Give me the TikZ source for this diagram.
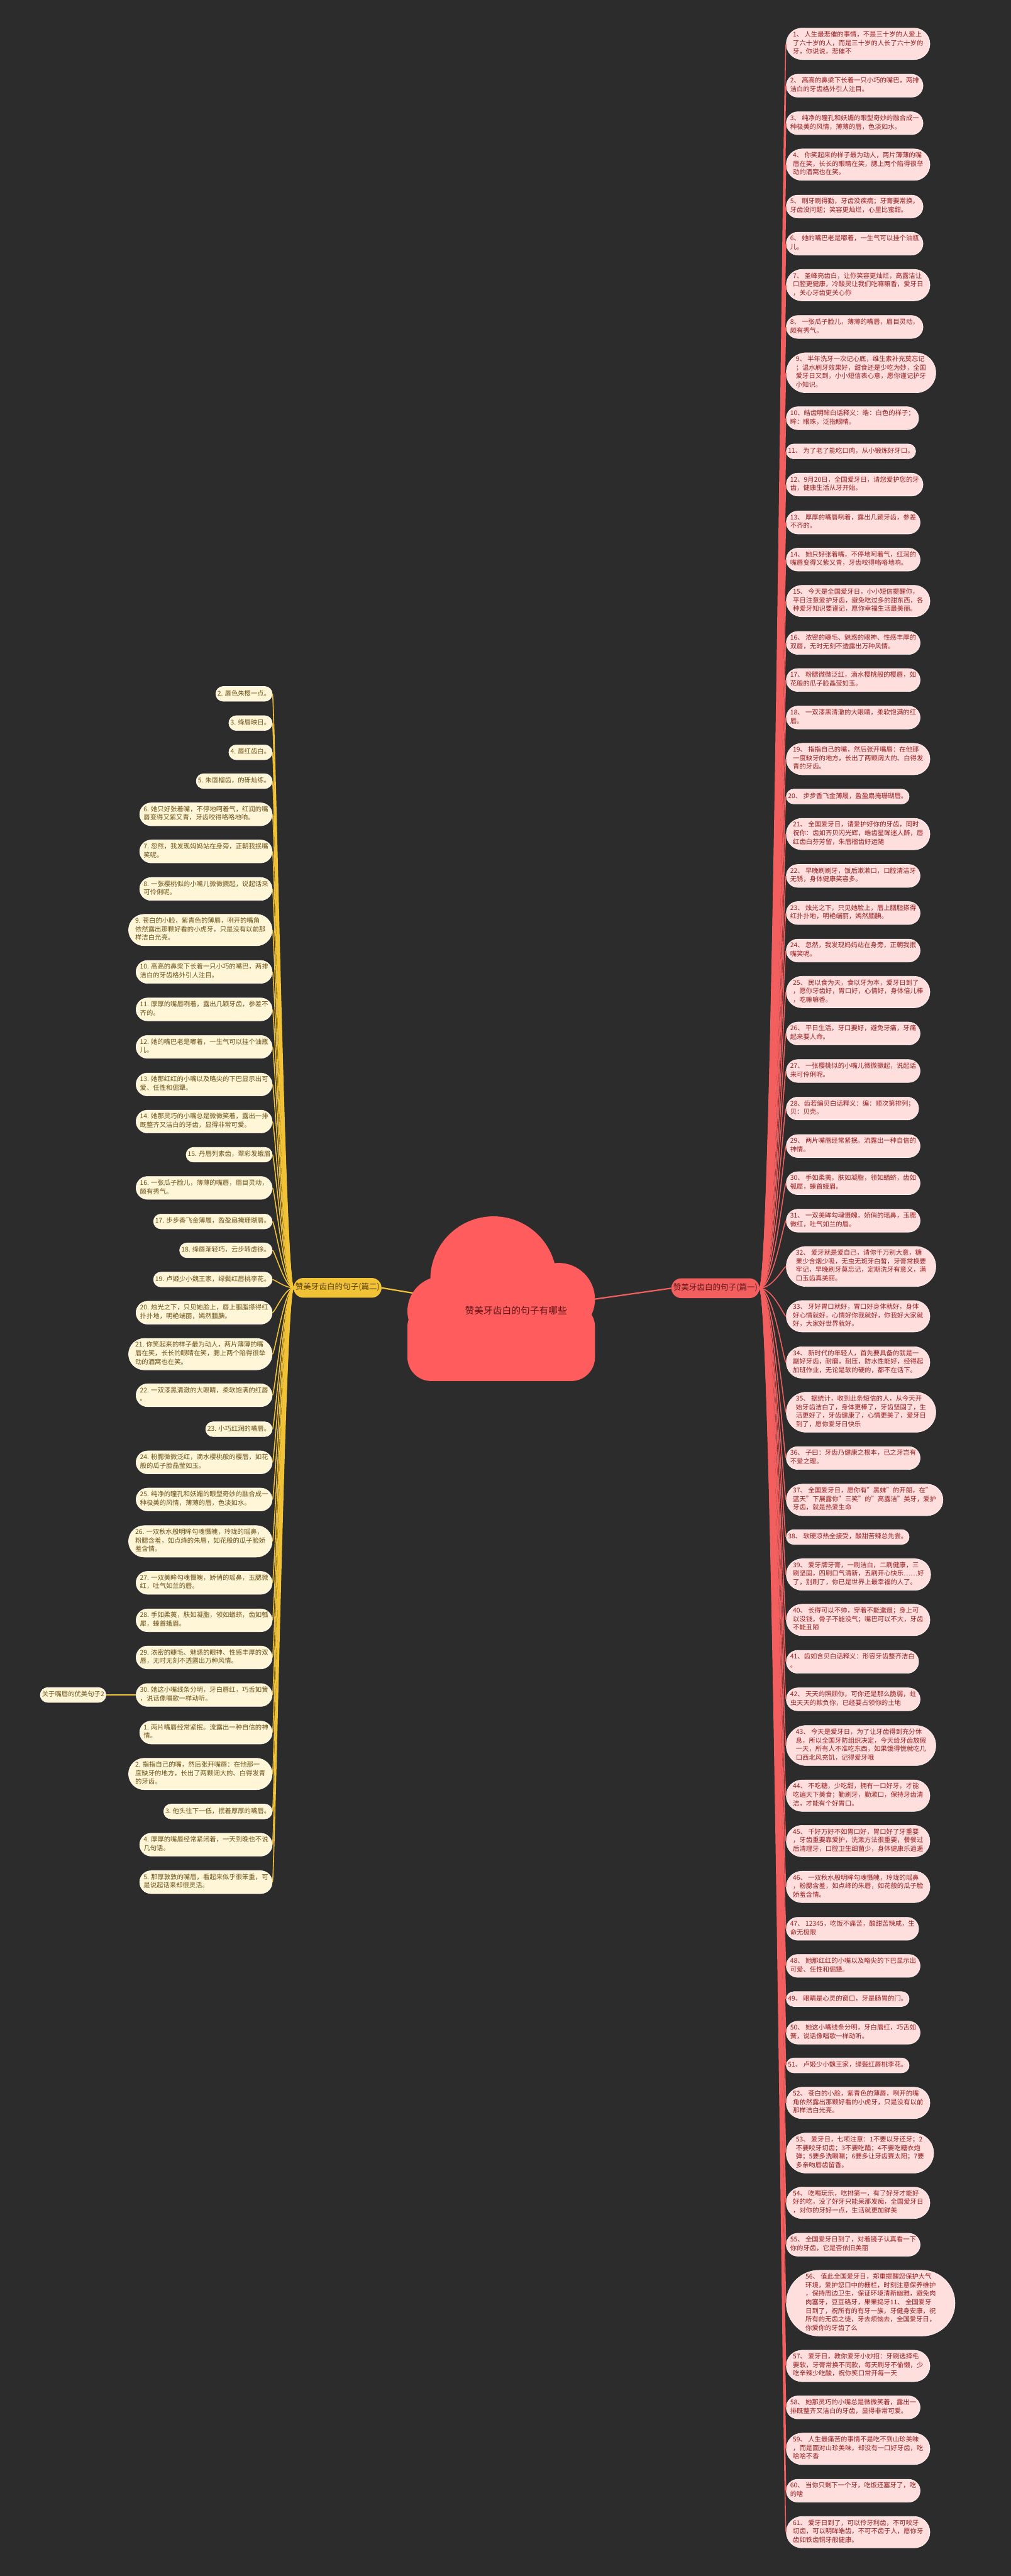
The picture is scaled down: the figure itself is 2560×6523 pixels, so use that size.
\documentclass[tikz,border=0pt]{standalone}
\usepackage{fontspec}
\setmainfont{Noto Sans CJK SC}
\usetikzlibrary{shapes.misc,backgrounds}

\definecolor{bgdark}{HTML}{2C2C2C}
\definecolor{rfill}{HTML}{FFDEDE}
\definecolor{rtxt}{HTML}{961D1D}
\definecolor{rlinkc}{HTML}{F35E5E}
\definecolor{lfill}{HTML}{FFF5D7}
\definecolor{ltxt}{HTML}{6A5015}
\definecolor{llinkc}{HTML}{F2C236}
\definecolor{cloudc}{HTML}{FF5C5E}
\definecolor{ctxt}{HTML}{5B1515}

\newcommand\leaffont{\fontsize{16.5pt}{21.7pt}\selectfont}
\newcommand\branchfont{\fontsize{20pt}{26pt}\selectfont}
\newcommand\centerfont{\fontsize{23.5pt}{30pt}\selectfont}

\begin{document}
\begin{tikzpicture}[x=1pt, y=-1pt,
    leaf/.style={rounded rectangle, align=left, font=\leaffont, line width=1pt,
      inner xsep=1pt, inner ysep=8pt,
      execute at begin node=\strut, execute at end node=\strut},
    rleaf/.style={leaf, fill=rfill, draw=white!70!rfill, text=rtxt, anchor=west},
    lleaf/.style={leaf, fill=lfill, draw=white!70!lfill, text=ltxt, anchor=east},
    branch/.style={rounded rectangle, font=\branchfont, inner xsep=1pt, inner ysep=12pt,
      execute at begin node=\strut},
    rlink/.style={draw=rlinkc, line width=2.5pt,
      to path={.. controls +(35,0) and +(-6,0) .. (\tikztotarget)}},
    llink/.style={draw=llinkc, line width=2.5pt,
      to path={.. controls +(-22,0) and +(6,0) .. (\tikztotarget)}}]

  % cloud in the middle
  \fill[cloudc] (1250,3240) circle (160);
  \fill[cloudc] (1415,3290) circle (92);
  \fill[cloudc] (1120,3320) circle (88);
  \fill[cloudc, rounded corners=60] (1032,3300) rectangle (1507,3497);
  \node[font=\centerfont, text=ctxt] (ctr) at (1307,3318) {赞美牙齿白的句子有哪些};

  \node[branch, fill=rlinkc, text=ctxt] (b1) at (1812,3262) {赞美牙齿白的句子(篇一)};
  \node[branch, fill=llinkc, text=ltxt!80!black] (b2) at (855,3261) {赞美牙齿白的句子(篇二)};

  \begin{scope}[on background layer]
    \fill[bgdark] (0,0) rectangle (2560,6523);
    \draw[rlinkc, line width=3.5pt] (ctr) -- (b1.west);
    \draw[llinkc, line width=3.5pt] (ctr) -- (b2.east);
  \end{scope}

  % right side
  \node[rleaf] (r1) at (1991,111) {1、 人生最悲催的事情，不是三十岁的人爱上\\了六十岁的人，而是三十岁的人长了六十岁的\\牙，你说说，悲催不};
  \node[rleaf] (r2) at (1991,217) {2、 高高的鼻梁下长着一只小巧的嘴巴，两排\\洁白的牙齿格外引人注目。};
  \node[rleaf] (r3) at (1991,312) {3、 纯净的瞳孔和妖媚的眼型奇妙的融合成一\\种极美的风情，薄薄的唇，色淡如水。};
  \node[rleaf] (r4) at (1991,417) {4、 你笑起来的样子最为动人，两片薄薄的嘴\\唇在笑，长长的眼睛在笑，腮上两个陷得很举\\动的酒窝也在笑。};
  \node[rleaf] (r5) at (1991,523) {5、 刷牙刷得勤，牙齿没疾病；牙膏要常换，\\牙齿没问题；笑容更灿烂，心里比蜜甜。};
  \node[rleaf] (r6) at (1991,617) {6、 她的嘴巴老是嘟着，一生气可以挂个油瓶\\儿。};
  \node[rleaf] (r7) at (1991,722) {7、 圣峰亮齿白，让你笑容更灿烂，高露洁让\\口腔更健康，冷酸灵让我们吃嘛嘛香，爱牙日\\，关心牙齿更关心你};
  \node[rleaf] (r8) at (1991,828) {8、 一张瓜子脸儿，薄薄的嘴唇，眉目灵动，\\颇有秀气。};
  \node[rleaf] (r9) at (1991,944) {9、 半年洗牙一次记心底，维生素补充莫忘记\\；温水刷牙效果好，甜食还是少吃为妙，全国\\爱牙日又到，小小短信表心意，愿你谨记护牙\\小知识。};
  \node[rleaf] (r10) at (1991,1059) {10、皓齿明眸白话释义：皓：白色的样子；\\眸：眼珠，泛指眼睛。};
  \node[rleaf] (r11) at (1991,1143) {11、 为了老了能吃口肉，从小锻炼好牙口。};
  \node[rleaf] (r12) at (1991,1227) {12、9月20日，全国爱牙日，请您爱护您的牙\\齿，健康生活从牙开始。};
  \node[rleaf] (r13) at (1991,1323) {13、 厚厚的嘴唇咧着，露出几颖牙齿，参差\\不齐的。};
  \node[rleaf] (r14) at (1991,1417) {14、 她只好张着嘴，不停地呵着气，红润的\\嘴唇变得又紫又青，牙齿咬得咯咯地响。};
  \node[rleaf] (r15) at (1991,1522) {15、 今天是全国爱牙日，小小短信提醒你，\\平日注意爱护牙齿，避免吃过多的甜东西，各\\种爱牙知识要谨记，愿你幸福生活最美丽。};
  \node[rleaf] (r16) at (1991,1628) {16、 浓密的睫毛、魅惑的眼神、性感丰厚的\\双唇，无时无刻不透露出万种风情。};
  \node[rleaf] (r17) at (1991,1722) {17、 粉腮微微泛红，滴水樱桃般的樱唇，如\\花般的瓜子脸晶莹如玉。};
  \node[rleaf] (r18) at (1991,1817) {18、 一双漆黑清澈的大眼睛，柔软饱满的红\\唇。};
  \node[rleaf] (r19) at (1991,1922) {19、 指指自己的嘴，然后张开嘴唇：在他那\\一度缺牙的地方，长出了两颗阔大的、白得发\\青的牙齿。};
  \node[rleaf] (r20) at (1991,2017) {20、 步步香飞金薄履，盈盈扇掩珊瑚唇。};
  \node[rleaf] (r21) at (1991,2112) {21、 全国爱牙日，请爱护好你的牙齿，同时\\祝你：齿如齐贝闪光辉，皓齿星眸迷人醉，唇\\红齿白芬芳留，朱唇榴齿好运随};
  \node[rleaf] (r22) at (1991,2218) {22、 早晚刷刷牙，饭后漱漱口，口腔清洁牙\\无锈，身体健康笑容多。};
  \node[rleaf] (r23) at (1991,2312) {23、 烛光之下，只见她脸上，唇上胭脂搽得\\红扑扑地，明艳端丽，嫣然腼腆。};
  \node[rleaf] (r24) at (1991,2407) {24、 忽然，我发现妈妈站在身旁，正朝我抿\\嘴笑呢。};
  \node[rleaf] (r25) at (1991,2512) {25、 民以食为天，食以牙为本，爱牙日到了\\，愿你牙齿好，胃口好，心情好，身体倍儿棒\\，吃嘛嘛香。};
  \node[rleaf] (r26) at (1991,2617) {26、 平日生活，牙口要好，避免牙痛，牙痛\\起来要人命。};
  \node[rleaf] (r27) at (1991,2712) {27、 一张樱桃似的小嘴儿微微撅起，说起话\\来可伶俐呢。};
  \node[rleaf] (r28) at (1991,2807) {28、齿若编贝白话释义：编：顺次第排列；\\贝：贝壳。};
  \node[rleaf] (r29) at (1991,2902) {29、 两片嘴唇经常紧抿。流露出一种自信的\\神情。};
  \node[rleaf] (r30) at (1991,2996) {30、 手如柔荑，肤如凝脂，领如蝤蛴，齿如\\瓠犀，螓首蛾眉。};
  \node[rleaf] (r31) at (1991,3091) {31、 一双美眸勾魂慑魄，娇俏的瑶鼻，玉腮\\微红，吐气如兰的唇。};
  \node[rleaf] (r32) at (1991,3207) {32、 爱牙就是爱自己，请你千万别大意，糖\\果少含烟少吸，无虫无斑牙白皙，牙膏常换要\\牢记，早晚刷牙莫忘记，定期洗牙有意义，满\\口玉齿真美丽。};
  \node[rleaf] (r33) at (1991,3333) {33、 牙好胃口就好，胃口好身体就好，身体\\好心情就好，心情好你我就好，你我好大家就\\好，大家好世界就好。};
  \node[rleaf] (r34) at (1991,3450) {34、 新时代的年轻人，首先要具备的就是一\\副好牙齿，耐磨，耐压，防水性能好，经得起\\加班作业，无论是软的硬的，都不在话下。};
  \node[rleaf] (r35) at (1991,3576) {35、 据统计，收到此条短信的人，从今天开\\始牙齿洁白了，身体更棒了，牙齿坚固了，生\\活更好了，牙齿健康了，心情更美了，爱牙日\\到了，愿你爱牙日快乐};
  \node[rleaf] (r36) at (1991,3692) {36、 子曰：牙齿乃健康之根本，已之牙岂有\\不爱之理。};
  \node[rleaf] (r37) at (1991,3798) {37、 全国爱牙日，愿你有"黑妹"的开朗，在"\\蓝天"下展露你"三笑"的"高露洁"美牙，爱护\\牙齿，就是热爱生命};
  \node[rleaf] (r38) at (1991,3892) {38、 软硬凉热全接受，酸甜苦辣总先尝。};
  \node[rleaf] (r39) at (1991,3987) {39、 爱牙牌牙膏，一刷洁白，二刷健康，三\\刷坚固，四刷口气清新，五刷开心快乐……好\\了，别刷了，你已是世界上最幸福的人了。};
  \node[rleaf] (r40) at (1991,4102) {40、 长得可以不帅，穿着不能邋遢；身上可\\以没钱，骨子不能没气；嘴巴可以不大，牙齿\\不能丑陋};
  \node[rleaf] (r41) at (1991,4208) {41、齿如含贝白话释义：形容牙齿整齐洁白\\。};
  \node[rleaf] (r42) at (1991,4303) {42、 天天的照顾你，可你还是那么脆弱，蛀\\虫天天的欺负你，已经要占领你的土地};
  \node[rleaf] (r43) at (1991,4420) {43、 今天是爱牙日，为了让牙齿得到充分休\\息，所以全国牙防组织决定，今天给牙齿放假\\一天，所有人不准吃东西，如果饿得慌就吃几\\口西北风充饥，记得爱牙哦};
  \node[rleaf] (r44) at (1991,4547) {44、 不吃糖，少吃甜，拥有一口好牙，才能\\吃遍天下美食；勤刷牙，勤漱口，保持牙齿清\\洁，才能有个好胃口。};
  \node[rleaf] (r45) at (1991,4662) {45、 千好万好不如胃口好，胃口好了牙重要\\，牙齿重要靠爱护，洗漱方法很重要，餐餐过\\后清理牙，口腔卫生细菌少，身体健康乐逍遥};
  \node[rleaf] (r46) at (1991,4778) {46、 一双秋水般明眸勾魂慑魄，玲珑的瑶鼻\\，粉腮含羞，如点绛的朱唇，如花般的瓜子脸\\娇羞含情。};
  \node[rleaf] (r47) at (1991,4884) {47、 12345，吃饭不痛苦，酸甜苦辣咸，生\\命无极限};
  \node[rleaf] (r48) at (1991,4978) {48、 她那红红的小嘴以及略尖的下巴显示出\\可爱、任性和倔犟。};
  \node[rleaf] (r49) at (1991,5062) {49、 眼睛是心灵的窗口，牙是肠胃的门。};
  \node[rleaf] (r50) at (1991,5147) {50、 她这小嘴线条分明，牙白唇红，巧舌如\\簧，说话像唱歌一样动听。};
  \node[rleaf] (r51) at (1991,5230) {51、 卢姬少小魏王家，绿鬓红唇桃李花。};
  \node[rleaf] (r52) at (1991,5325) {52、 苍白的小脸，紫青色的薄唇，咧开的嘴\\角依然露出那颗好看的小虎牙，只是没有以前\\那样洁白光亮。};
  \node[rleaf] (r53) at (1991,5452) {53、 爱牙日，七项注意：1不要以牙还牙；2\\不要咬牙切齿；3不要吃醋；4不要吃糖衣炮\\弹；5要多洗唰唰；6要多让牙齿赛太阳；7要\\多亲吻唇齿留香。};
  \node[rleaf] (r54) at (1991,5578) {54、 吃喝玩乐，吃排第一，有了好牙才能好\\好的吃，没了好牙只能呆那发痴，全国爱牙日\\，对你的牙好一点，生活就更加鲜美};
  \node[rleaf] (r55) at (1991,5684) {55、 全国爱牙日到了，对着镜子认真看一下\\你的牙齿，它是否依旧美丽};
  \node[rleaf] (r56) at (1991,5832) {56、 值此全国爱牙日，郑重提醒您保护大气\\环境，爱护您口中的栅栏，时刻注意保养维护\\，保持周边卫生，保证环境清新幽雅，避免肉\\肉塞牙，豆豆硌牙，果果捣牙11、 全国爱牙\\日到了，祝所有的有牙一族，牙健身安康，祝\\所有的无齿之徒，牙去烦恼去，全国爱牙日，\\你爱你的牙齿了么};
  \node[rleaf] (r57) at (1991,5991) {57、 爱牙日，教你爱牙小妙招：牙刷选择毛\\要软，牙膏常换不同款，每天刷牙不偷懒，少\\吃辛辣少吃酸，祝你笑口常开每一天};
  \node[rleaf] (r58) at (1991,6096) {58、 她那灵巧的小嘴总是微微笑着，露出一\\排既整齐又洁白的牙齿，显得非常可爱。};
  \node[rleaf] (r59) at (1991,6201) {59、 人生最痛苦的事情不是吃不到山珍美味\\，而是面对山珍美味，却没有一口好牙齿，吃\\啥啥不香};
  \node[rleaf] (r60) at (1991,6307) {60、 当你只剩下一个牙，吃饭还塞牙了，吃\\的啥};
  \node[rleaf] (r61) at (1991,6412) {61、 爱牙日到了，可以伶牙利齿，不可咬牙\\切齿，可以明眸皓齿，不可不齿于人，愿你牙\\齿如铁齿铜牙般健康。};

  \draw[rlink] (b1.east) to (r1.west);
  \draw[rlink] (b1.east) to (r2.west);
  \draw[rlink] (b1.east) to (r3.west);
  \draw[rlink] (b1.east) to (r4.west);
  \draw[rlink] (b1.east) to (r5.west);
  \draw[rlink] (b1.east) to (r6.west);
  \draw[rlink] (b1.east) to (r7.west);
  \draw[rlink] (b1.east) to (r8.west);
  \draw[rlink] (b1.east) to (r9.west);
  \draw[rlink] (b1.east) to (r10.west);
  \draw[rlink] (b1.east) to (r11.west);
  \draw[rlink] (b1.east) to (r12.west);
  \draw[rlink] (b1.east) to (r13.west);
  \draw[rlink] (b1.east) to (r14.west);
  \draw[rlink] (b1.east) to (r15.west);
  \draw[rlink] (b1.east) to (r16.west);
  \draw[rlink] (b1.east) to (r17.west);
  \draw[rlink] (b1.east) to (r18.west);
  \draw[rlink] (b1.east) to (r19.west);
  \draw[rlink] (b1.east) to (r20.west);
  \draw[rlink] (b1.east) to (r21.west);
  \draw[rlink] (b1.east) to (r22.west);
  \draw[rlink] (b1.east) to (r23.west);
  \draw[rlink] (b1.east) to (r24.west);
  \draw[rlink] (b1.east) to (r25.west);
  \draw[rlink] (b1.east) to (r26.west);
  \draw[rlink] (b1.east) to (r27.west);
  \draw[rlink] (b1.east) to (r28.west);
  \draw[rlink] (b1.east) to (r29.west);
  \draw[rlink] (b1.east) to (r30.west);
  \draw[rlink] (b1.east) to (r31.west);
  \draw[rlink] (b1.east) to (r32.west);
  \draw[rlink] (b1.east) to (r33.west);
  \draw[rlink] (b1.east) to (r34.west);
  \draw[rlink] (b1.east) to (r35.west);
  \draw[rlink] (b1.east) to (r36.west);
  \draw[rlink] (b1.east) to (r37.west);
  \draw[rlink] (b1.east) to (r38.west);
  \draw[rlink] (b1.east) to (r39.west);
  \draw[rlink] (b1.east) to (r40.west);
  \draw[rlink] (b1.east) to (r41.west);
  \draw[rlink] (b1.east) to (r42.west);
  \draw[rlink] (b1.east) to (r43.west);
  \draw[rlink] (b1.east) to (r44.west);
  \draw[rlink] (b1.east) to (r45.west);
  \draw[rlink] (b1.east) to (r46.west);
  \draw[rlink] (b1.east) to (r47.west);
  \draw[rlink] (b1.east) to (r48.west);
  \draw[rlink] (b1.east) to (r49.west);
  \draw[rlink] (b1.east) to (r50.west);
  \draw[rlink] (b1.east) to (r51.west);
  \draw[rlink] (b1.east) to (r52.west);
  \draw[rlink] (b1.east) to (r53.west);
  \draw[rlink] (b1.east) to (r54.west);
  \draw[rlink] (b1.east) to (r55.west);
  \draw[rlink] (b1.east) to (r56.west);
  \draw[rlink] (b1.east) to (r57.west);
  \draw[rlink] (b1.east) to (r58.west);
  \draw[rlink] (b1.east) to (r59.west);
  \draw[rlink] (b1.east) to (r60.west);
  \draw[rlink] (b1.east) to (r61.west);

  % left side
  \node[lleaf] (l1) at (690,1757) {2. 唇色朱樱一点。};
  \node[lleaf] (l2) at (690,1831) {3. 绛唇映日。};
  \node[lleaf] (l3) at (690,1905) {4. 唇红齿白。};
  \node[lleaf] (l4) at (690,1978) {5. 朱唇榴齿，的砾灿练。};
  \node[lleaf] (l5) at (690,2062) {6. 她只好张着嘴，不停地呵着气，红润的嘴\\唇变得又紫又青，牙齿咬得咯咯地响。};
  \node[lleaf] (l6) at (690,2156) {7. 忽然，我发现妈妈站在身旁，正朝我抿嘴\\笑呢。};
  \node[lleaf] (l7) at (690,2251) {8. 一张樱桃似的小嘴儿微微撅起，说起话来\\可伶俐呢。};
  \node[lleaf] (l8) at (690,2355) {9. 苍白的小脸，紫青色的薄唇，咧开的嘴角\\依然露出那颗好看的小虎牙，只是没有以前那\\样洁白光亮。};
  \node[lleaf] (l9) at (690,2461) {10. 高高的鼻梁下长着一只小巧的嘴巴，两排\\洁白的牙齿格外引人注目。};
  \node[lleaf] (l10) at (690,2556) {11. 厚厚的嘴唇咧着，露出几颖牙齿，参差不\\齐的。};
  \node[lleaf] (l11) at (690,2651) {12. 她的嘴巴老是嘟着，一生气可以挂个油瓶\\儿。};
  \node[lleaf] (l12) at (690,2746) {13. 她那红红的小嘴以及略尖的下巴显示出可\\爱、任性和倔犟。};
  \node[lleaf] (l13) at (690,2840) {14. 她那灵巧的小嘴总是微微笑着，露出一排\\既整齐又洁白的牙齿，显得非常可爱。};
  \node[lleaf] (l14) at (690,2924) {15. 丹唇列素齿，翠彩发蛾眉};
  \node[lleaf] (l15) at (690,3008) {16. 一张瓜子脸儿，薄薄的嘴唇，眉目灵动，\\颇有秀气。};
  \node[lleaf] (l16) at (690,3093) {17. 步步香飞金薄履，盈盈扇掩珊瑚唇。};
  \node[lleaf] (l17) at (690,3166) {18. 绛唇渐轻巧，云步转虚徐。};
  \node[lleaf] (l18) at (690,3240) {19. 卢姬少小魏王家，绿鬓红唇桃李花。};
  \node[lleaf] (l19) at (690,3324) {20. 烛光之下，只见她脸上，唇上胭脂搽得红\\扑扑地，明艳端丽，嫣然腼腆。};
  \node[lleaf] (l20) at (690,3429) {21. 你笑起来的样子最为动人，两片薄薄的嘴\\唇在笑，长长的眼睛在笑，腮上两个陷得很举\\动的酒窝也在笑。};
  \node[lleaf] (l21) at (690,3533) {22. 一双漆黑清澈的大眼睛，柔软饱满的红唇\\。};
  \node[lleaf] (l22) at (690,3619) {23. 小巧红润的嘴唇。};
  \node[lleaf] (l23) at (690,3703) {24. 粉腮微微泛红，滴水樱桃般的樱唇，如花\\般的瓜子脸晶莹如玉。};
  \node[lleaf] (l24) at (690,3797) {25. 纯净的瞳孔和妖媚的眼型奇妙的融合成一\\种极美的风情，薄薄的唇，色淡如水。};
  \node[lleaf] (l25) at (690,3903) {26. 一双秋水般明眸勾魂慑魄，玲珑的瑶鼻，\\粉腮含羞，如点绛的朱唇，如花般的瓜子脸娇\\羞含情。};
  \node[lleaf] (l26) at (690,4008) {27. 一双美眸勾魂慑魄，娇俏的瑶鼻，玉腮微\\红，吐气如兰的唇。};
  \node[lleaf] (l27) at (690,4103) {28. 手如柔荑，肤如凝脂，领如蝤蛴，齿如瓠\\犀，螓首蛾眉。};
  \node[lleaf] (l28) at (690,4197) {29. 浓密的睫毛、魅惑的眼神、性感丰厚的双\\唇，无时无刻不透露出万种风情。};
  \node[lleaf] (l29) at (690,4292) {30. 她这小嘴线条分明，牙白唇红，巧舌如簧\\，说话像唱歌一样动听。};
  \node[lleaf] (l30) at (690,4387) {1. 两片嘴唇经常紧抿。流露出一种自信的神\\情。};
  \node[lleaf] (l31) at (690,4492) {2. 指指自己的嘴，然后张开嘴唇：在他那一\\度缺牙的地方，长出了两颗阔大的、白得发青\\的牙齿。};
  \node[lleaf] (l32) at (690,4587) {3. 他头往下一低，抿着厚厚的嘴唇。};
  \node[lleaf] (l33) at (690,4671) {4. 厚厚的嘴唇经常紧闭着，一天到晚也不说\\几句话。};
  \node[lleaf] (l34) at (690,4766) {5. 那厚敦敦的嘴唇，看起来似乎很笨重，可\\是说起话来却很灵活。};
  \node[lleaf] (p2) at (269,4292) {关于嘴唇的优美句子2};

  \draw[llink] (b2.west) to (l1.east);
  \draw[llink] (b2.west) to (l2.east);
  \draw[llink] (b2.west) to (l3.east);
  \draw[llink] (b2.west) to (l4.east);
  \draw[llink] (b2.west) to (l5.east);
  \draw[llink] (b2.west) to (l6.east);
  \draw[llink] (b2.west) to (l7.east);
  \draw[llink] (b2.west) to (l8.east);
  \draw[llink] (b2.west) to (l9.east);
  \draw[llink] (b2.west) to (l10.east);
  \draw[llink] (b2.west) to (l11.east);
  \draw[llink] (b2.west) to (l12.east);
  \draw[llink] (b2.west) to (l13.east);
  \draw[llink] (b2.west) to (l14.east);
  \draw[llink] (b2.west) to (l15.east);
  \draw[llink] (b2.west) to (l16.east);
  \draw[llink] (b2.west) to (l17.east);
  \draw[llink] (b2.west) to (l18.east);
  \draw[llink] (b2.west) to (l19.east);
  \draw[llink] (b2.west) to (l20.east);
  \draw[llink] (b2.west) to (l21.east);
  \draw[llink] (b2.west) to (l22.east);
  \draw[llink] (b2.west) to (l23.east);
  \draw[llink] (b2.west) to (l24.east);
  \draw[llink] (b2.west) to (l25.east);
  \draw[llink] (b2.west) to (l26.east);
  \draw[llink] (b2.west) to (l27.east);
  \draw[llink] (b2.west) to (l28.east);
  \draw[llink] (b2.west) to (l29.east);
  \draw[llink] (b2.west) to (l30.east);
  \draw[llink] (b2.west) to (l31.east);
  \draw[llink] (b2.west) to (l32.east);
  \draw[llink] (b2.west) to (l33.east);
  \draw[llink] (b2.west) to (l34.east);
  \draw[llinkc, line width=2.5pt] (l29.west) -- (p2.east);
\end{tikzpicture}
\end{document}
